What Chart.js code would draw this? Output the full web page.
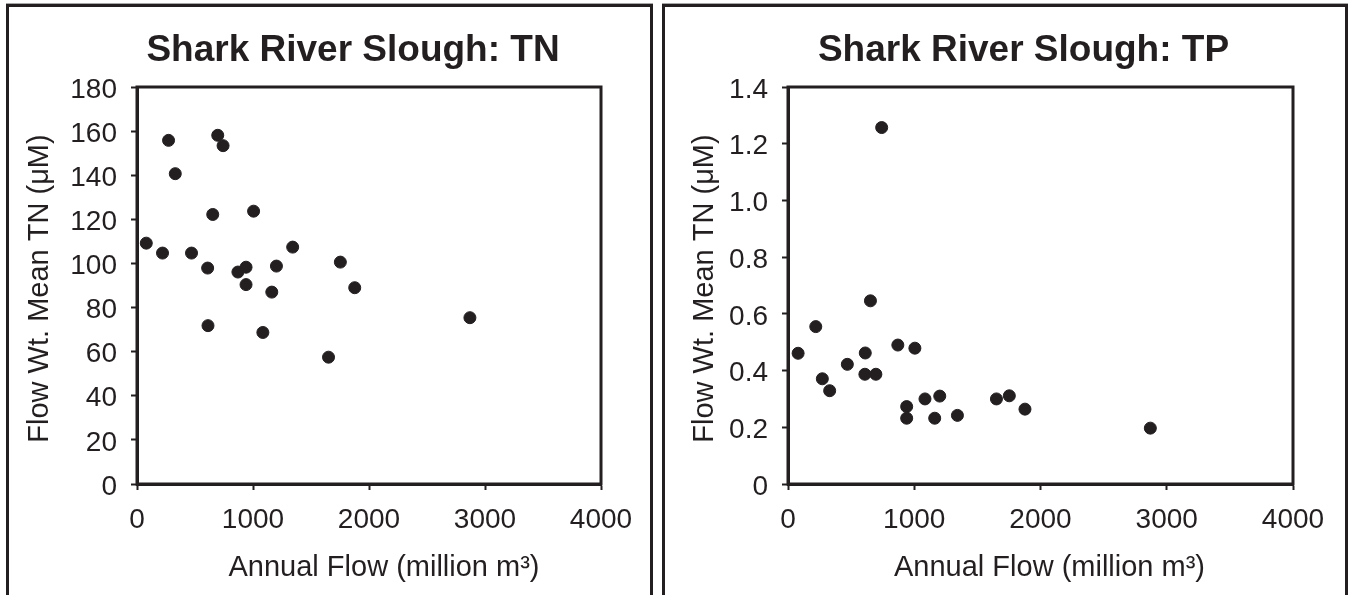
<!DOCTYPE html>
<html>
<head>
<meta charset="utf-8">
<title>Shark River Slough</title>
<script src="https://cdn.jsdelivr.net/npm/chart.js@4.4.0/dist/chart.umd.min.js"></script>
<style>
  body { margin: 0; background: #fff; width: 1348px; height: 595px; overflow: hidden; position: relative; }
  .panel { position: absolute; top: 4px; height: 600px; border: 3px solid #231f20; border-bottom: none;
           box-sizing: border-box; box-shadow: 0 -1px 0 #a7a7a7; }
  #panelTN { left: 6px; width: 647px; }
  #panelTP { left: 662px; width: 686px; }
  .panel canvas { position: absolute; left: 0; top: 0; }
</style>
</head>
<body>
<div class="panel" id="panelTN"><canvas id="chartTN" width="641" height="588"></canvas></div>
<div class="panel" id="panelTP"><canvas id="chartTP" width="680" height="588"></canvas></div>

<script>
// annual flow (million m3) for each year, with its flow weighted means
const annualFlow = [80, 220, 272, 330, 470, 609, 612, 653, 696, 742, 870, 940, 940, 1005, 1085, 1162, 1202, 1342, 1651, 1753, 1877, 2870];
const meanTN = [109.2, 104.7, 155.8, 140.7, 104.7, 97.9, 71.8, 122.2, 158.1, 153.4, 96.1, 98.3, 90.4, 123.7, 68.7, 87.0, 98.8, 107.4, 57.5, 100.6, 89.0, 75.4];
const meanTP = [0.461, 0.555, 0.371, 0.329, 0.422, 0.387, 0.462, 0.646, 0.387, 1.257, 0.490, 0.273, 0.232, 0.479, 0.300, 0.232, 0.310, 0.242, 0.300, 0.311, 0.264, 0.197];

const flowTicks = ['0', '1000', '2000', '3000', '4000'];
const tnTicks = ['0', '20', '40', '60', '80', '100', '120', '140', '160', '180'];
const tpTicks = ['0', '0.2', '0.4', '0.6', '0.8', '1.0', '1.2', '1.4'];

const ink = '#231f20';
const family = '"Liberation Sans", Arial, Helvetica, sans-serif';

// frame around the plot plus the titles
const panelText = {
  id: 'panelText',
  beforeDatasetsDraw(chart) {
    const { ctx, chartArea: a } = chart;
    ctx.save();
    ctx.strokeStyle = ink;
    ctx.lineWidth = 3;
    ctx.strokeRect(a.left, a.top, a.right - a.left, a.bottom - a.top);
    ctx.restore();
  },
  afterDraw(chart, args, o) {
    const { ctx, chartArea: a } = chart;
    const cx = (a.left + a.right) / 2;
    ctx.save();
    ctx.fillStyle = ink;
    ctx.textAlign = 'center';
    ctx.textBaseline = 'alphabetic';
    ctx.font = 'bold 37px ' + family;
    ctx.fillText(o.title, cx + o.titleShift, 54);
    ctx.font = '29px ' + family;
    ctx.fillText(o.xTitle, cx + o.xShift, 569);
    ctx.translate(o.yTitleX, (a.top + a.bottom) / 2 + 3);
    ctx.rotate(-Math.PI / 2);
    ctx.textBaseline = 'middle';
    ctx.fillText(o.yTitle, 0, 0);
    ctx.restore();
  }
};

function makeChart(id, yValues, yMax, yStep, yLabels, yWidth, rightPad, text) {
  return new Chart(document.getElementById(id), {
    type: 'scatter',
    data: {
      datasets: [{
        data: annualFlow.map((f, i) => ({ x: f, y: yValues[i] })),
        backgroundColor: ink,
        borderColor: ink,
        pointRadius: 6,
        pointHoverRadius: 6
      }]
    },
    options: {
      responsive: false,
      animation: false,
      layout: { padding: { left: 0, top: 80, right: rightPad, bottom: 0 } },
      plugins: { legend: { display: false }, tooltip: { enabled: false }, panelText: text },
      scales: {
        x: {
          type: 'linear', min: 0, max: 4000,
          ticks: { stepSize: 1000, padding: 13, color: ink, font: { family, size: 28 },
                   callback: (v, i) => flowTicks[i] },
          grid: { drawOnChartArea: false, tickLength: 6, tickWidth: 2, tickColor: ink },
          border: { color: ink, width: 3 },
          afterFit: s => { s.height = 111; }
        },
        y: {
          type: 'linear', min: 0, max: yMax,
          ticks: { stepSize: yStep, padding: 14, labelOffset: 3, color: ink, font: { family, size: 28 },
                   callback: (v, i) => yLabels[i] },
          grid: { drawOnChartArea: false, tickLength: 6, tickWidth: 2, tickColor: ink },
          border: { color: ink, width: 3 },
          afterFit: s => { s.width = yWidth; }
        }
      }
    },
    plugins: [panelText]
  });
}

makeChart('chartTN', meanTN, 180, 20, tnTicks, 128, 49, {
  title: 'Shark River Slough: TN', titleShift: -16,
  xTitle: 'Annual Flow (million m\u00b3)', xShift: 15,
  yTitle: 'Flow Wt. Mean TN (\u03bcM)', yTitleX: 31
});

makeChart('chartTP', meanTP, 1.4, 0.2, tpTicks, 123, 52, {
  title: 'Shark River Slough: TP', titleShift: -17,
  xTitle: 'Annual Flow (million m\u00b3)', xShift: 9,
  yTitle: 'Flow Wt. Mean TN (\u03bcM)', yTitleX: 40
});
</script>
</body>
</html>
